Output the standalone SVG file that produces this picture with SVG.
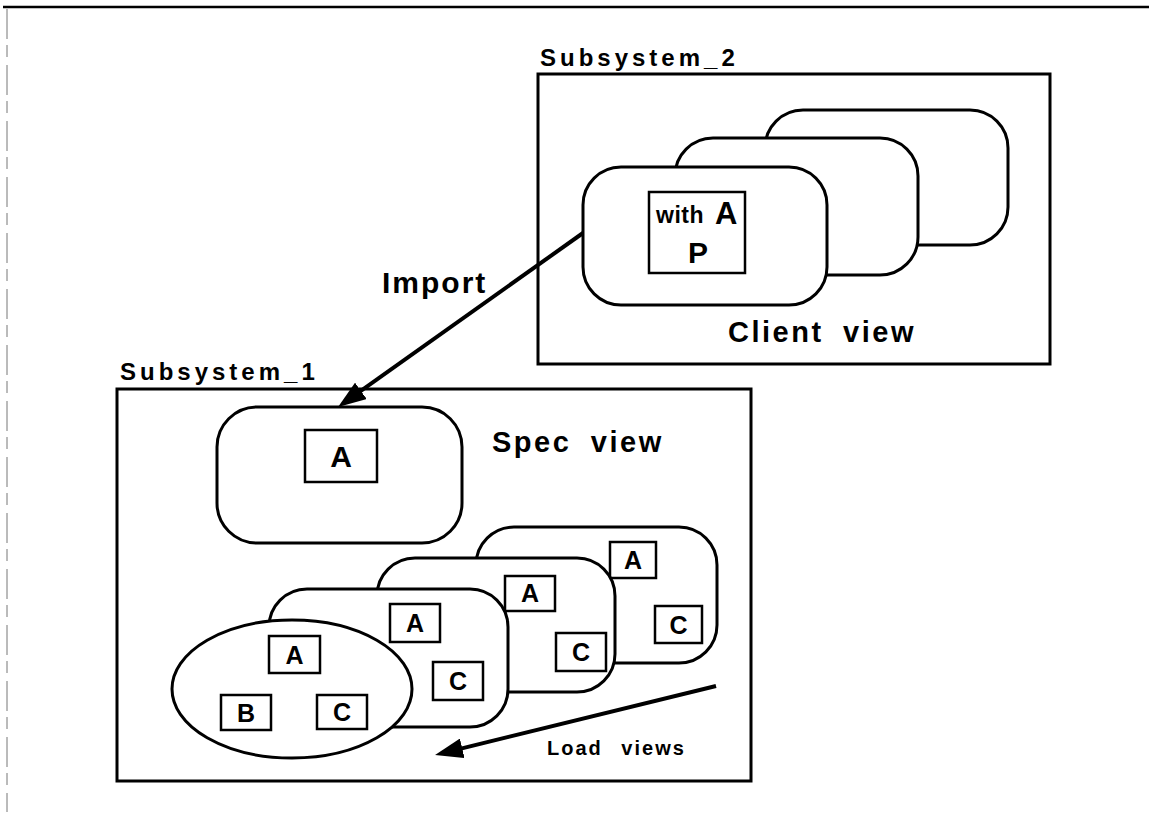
<svg xmlns="http://www.w3.org/2000/svg" width="1149" height="817" viewBox="0 0 1149 817">
  <style>
    .frame { fill: none; stroke: #000; stroke-width: 3; }
    .card { fill: #fff; stroke: #000; stroke-width: 3; }
    .box { fill: #fff; stroke: #000; stroke-width: 2.5; }
    .conn { fill: none; stroke: #000; stroke-width: 4; }
    text { font-family: "Liberation Sans", Arial, Helvetica, sans-serif; font-weight: bold; fill: #000; }
    .title { font-size: 24px; letter-spacing: 4px; }
    .label { font-size: 29px; letter-spacing: 2.5px; word-spacing: 9px; }
    .small { font-size: 20px; letter-spacing: 2px; word-spacing: 11px; }
    .big { font-size: 30px; text-anchor: middle; }
    .item { font-size: 25px; text-anchor: middle; }
  </style>
  <defs>
    <marker id="head" viewBox="0 0 28 20" markerWidth="28" markerHeight="20" refX="16" refY="10" orient="auto" markerUnits="userSpaceOnUse">
      <path d="M0,0 L28,10 L0,20 Z" fill="#000"/>
    </marker>
  </defs>

  <rect width="1149" height="817" fill="#fff"/>

  <!-- page edges -->
  <line x1="3" y1="7" x2="1149" y2="7" stroke="#000" stroke-width="2.5"/>
  <line x1="7" y1="9" x2="7" y2="812" stroke="#777" stroke-width="1" stroke-dasharray="30 6 12 8"/>

  <!-- Subsystem_2 -->
  <g id="subsystem2">
    <text class="title" x="540" y="66">Subsystem_2</text>
    <rect class="frame" x="538" y="74" width="512" height="290"/>
  </g>

  <!-- client view cards, back to front -->
  <g id="client-card-3">
    <rect class="card" x="765" y="110" width="243" height="135" rx="38"/>
  </g>
  <g id="client-card-2">
    <rect class="card" x="675" y="138" width="243" height="137" rx="38"/>
  </g>
  <g id="client-card-1">
    <rect class="card" x="583" y="167" width="244" height="138" rx="38"/>
    <rect class="box" x="649" y="192" width="96" height="81"/>
    <text x="656" y="223" style="font-size:23px;letter-spacing:0.5px">with</text>
    <text x="715" y="224" style="font-size:31px">A</text>
    <text class="big" x="698" y="263">P</text>
  </g>
  <g id="client-view-label">
    <text class="label" x="728" y="342">Client view</text>
  </g>

  <!-- Subsystem_1 -->
  <g id="subsystem1">
    <text class="title" x="120" y="380">Subsystem_1</text>
    <rect class="frame" x="117" y="389" width="634" height="392"/>
  </g>

  <g id="spec-view">
    <rect class="card" x="217" y="407" width="245" height="136" rx="40"/>
    <rect class="box" x="305" y="430" width="72" height="52"/>
    <text class="big" x="341" y="467">A</text>
    <text class="label" x="492" y="452">Spec view</text>
  </g>

  <!-- load view cards, back to front -->
  <g id="load-card-3">
    <rect class="card" x="476" y="527" width="241" height="136" rx="38"/>
    <rect class="box" x="610" y="542" width="46" height="36"/>
    <text class="item" x="633" y="569">A</text>
    <rect class="box" x="655" y="606" width="47" height="37"/>
    <text class="item" x="678.5" y="634">C</text>
  </g>
  <g id="load-card-2">
    <rect class="card" x="377" y="558" width="238" height="134" rx="38"/>
    <rect class="box" x="505" y="576" width="50" height="35"/>
    <text class="item" x="530" y="602">A</text>
    <rect class="box" x="556" y="633" width="50" height="38"/>
    <text class="item" x="581" y="661">C</text>
  </g>
  <g id="load-card-1">
    <rect class="card" x="269" y="589" width="239" height="138" rx="38"/>
    <rect class="box" x="390" y="604" width="50" height="38"/>
    <text class="item" x="415" y="632">A</text>
    <rect class="box" x="433" y="662" width="50" height="38"/>
    <text class="item" x="458" y="690">C</text>
  </g>
  <g id="load-ellipse">
    <ellipse class="card" cx="292" cy="689" rx="120" ry="69"/>
    <rect class="box" x="269" y="636" width="51" height="37"/>
    <text class="item" x="294.5" y="664">A</text>
    <rect class="box" x="221" y="695" width="50" height="35"/>
    <text class="item" x="246" y="722">B</text>
    <rect class="box" x="317" y="695" width="50" height="34"/>
    <text class="item" x="342" y="721">C</text>
  </g>

  <g id="load-views-label">
    <text class="small" x="547" y="755">Load views</text>
  </g>
  <g id="import-label">
    <text x="382" y="293" style="font-size:30px;letter-spacing:2px">Import</text>
  </g>

  <!-- connectors -->
  <g id="connectors">
    <line class="conn" x1="583" y1="233" x2="347.8" y2="400.1" marker-end="url(#head)"/>
    <line class="conn" x1="716" y1="686" x2="446.7" y2="752.1" marker-end="url(#head)"/>
  </g>
</svg>
